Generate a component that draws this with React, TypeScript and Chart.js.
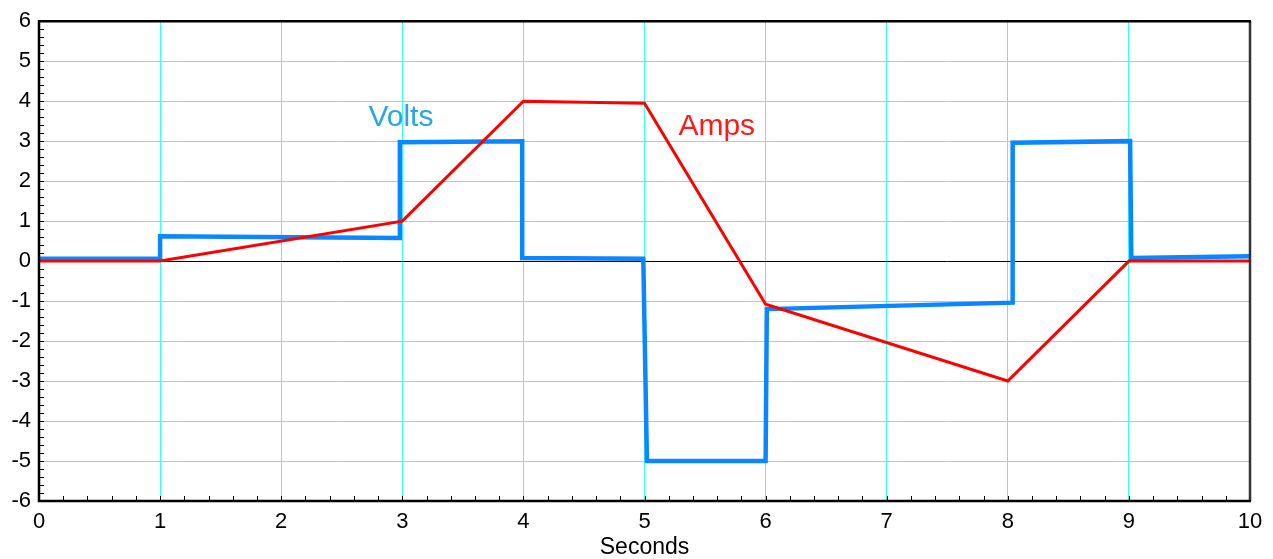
import React, { useEffect, useRef } from "react";
import { Chart, registerables } from "chart.js";

Chart.register(...registerables);

// Volts: step-like waveform (x in seconds, y in volts)
const voltsX = [0, 1, 1, 2.98, 2.98, 3.99, 3.99, 4.99, 5.02, 6.0, 6.01, 8.04, 8.04, 9.01, 9.02, 10];
const voltsY = [0.06, 0.06, 0.62, 0.58, 2.97, 3.0, 0.08, 0.06, -5.0, -5.0, -1.2, -1.04, 2.96, 3.0, 0.08, 0.12];

// Amps: piecewise linear
const ampsX = [0, 1, 3, 4, 5, 6, 8, 9, 10];
const ampsY = [0, 0, 1, 4, 3.95, -1.08, -3.0, 0, 0];

const xTicks = [0, 1, 2, 3, 4, 5, 6, 7, 8, 9, 10];
const yTicks = [-6, -5, -4, -3, -2, -1, 0, 1, 2, 3, 4, 5, 6];

const seriesLabels = ["Volts", "Amps"];
const labelX = [2.72, 5.28];
const labelY = [3.39, 3.16];

const FONT = "'Liberation Sans', Arial, Helvetica, sans-serif";

export default function App() {
  const ref = useRef<HTMLCanvasElement | null>(null);

  useEffect(() => {
    if (!ref.current) return;

    const frame = {
      id: "frame",
      beforeDatasetsDraw(chart: any) {
        const { ctx, chartArea: a, scales } = chart;
        const xs = scales.x;
        const ys = scales.y;
        ctx.save();
        ctx.strokeStyle = "#000";
        ctx.lineWidth = 1;
        ctx.beginPath();
        for (let i = 0; i <= 60; i++) {
          const v = -6 + i * 0.2;
          const py = Math.round(ys.getPixelForValue(v)) + 0.5;
          ctx.moveTo(a.left, py);
          ctx.lineTo(a.left + 5, py);
        }
        for (let i = 0; i <= 50; i++) {
          const v = i * 0.2;
          const px = Math.round(xs.getPixelForValue(v)) + 0.5;
          ctx.moveTo(px, a.bottom);
          ctx.lineTo(px, a.bottom - 5);
        }
        ctx.stroke();
        ctx.restore();
      },
      afterDatasetsDraw(chart: any) {
        const { ctx, chartArea: a, scales } = chart;
        ctx.save();
        // right border (dark grey)
        ctx.strokeStyle = "#333";
        ctx.lineWidth = 2.5;
        ctx.beginPath();
        ctx.moveTo(a.right, a.top);
        ctx.lineTo(a.right, a.bottom);
        ctx.stroke();
        // top, left, bottom black
        ctx.strokeStyle = "#000";
        ctx.lineWidth = 2.5;
        ctx.beginPath();
        ctx.moveTo(a.right + 1, a.top);
        ctx.lineTo(a.left, a.top);
        ctx.lineTo(a.left, a.bottom);
        ctx.lineTo(a.right + 1, a.bottom);
        ctx.stroke();
        // series labels
        ctx.font = `30px ${FONT}`;
        ctx.textAlign = "left";
        ctx.textBaseline = "alphabetic";
        const colors = ["#29a6e0", "#ff1a1a"];
        seriesLabels.forEach((t, i) => {
          ctx.fillStyle = colors[i];
          ctx.fillText(t, scales.x.getPixelForValue(labelX[i]), scales.y.getPixelForValue(labelY[i]));
        });
        ctx.restore();
      },
    };

    const chart = new Chart(ref.current, {
      type: "line",
      data: {
        datasets: [
          {
            label: "Amps",
            data: ampsX.map((x, i) => ({ x, y: ampsY[i] })),
            borderColor: "#ff0000",
            borderWidth: 3,
            pointRadius: 0,
            borderJoinStyle: "miter",
            tension: 0,
          },
          {
            label: "Volts",
            data: voltsX.map((x, i) => ({ x, y: voltsY[i] })),
            borderColor: "#0a86ff",
            borderWidth: 4.5,
            pointRadius: 0,
            borderJoinStyle: "miter",
            tension: 0,
          },
        ],
      },
      options: {
        animation: false,
        responsive: true,
        maintainAspectRatio: false,
        layout: { padding: { left: 0, top: 19, right: 23, bottom: 0 } },
        plugins: { legend: { display: false }, tooltip: { enabled: false } },
        scales: {
          x: {
            type: "linear",
            min: 0,
            max: 10,
            afterBuildTicks: (s: any) => {
              s.ticks = xTicks.map((v) => ({ value: v }));
            },
            afterFit: (s: any) => {
              s.height = 58;
            },
            ticks: {
              color: "#000",
              font: { family: FONT, size: 22 },
              padding: 8,
              maxRotation: 0,
              autoSkip: false,
            },
            grid: {
              color: (c: any) => (c.tick && (c.tick.value === 0 || c.tick.value === 10) ? "rgba(0,0,0,0)" : "#3ff"),
              lineWidth: 1,
              drawTicks: false,
            },
            border: { display: false },
            title: {
              display: true,
              text: "Seconds",
              color: "#000",
              font: { family: FONT, size: 23, lineHeight: 1.0 },
              padding: { top: 0, bottom: 0 },
            },
          },
          y: {
            type: "linear",
            min: -6,
            max: 6,
            afterBuildTicks: (s: any) => {
              s.ticks = yTicks.map((v) => ({ value: v }));
            },
            afterFit: (s: any) => {
              s.width = 39;
            },
            ticks: {
              color: "#000",
              font: { family: FONT, size: 22 },
              padding: 8,
              autoSkip: false,
            },
            grid: {
              color: (c: any) =>
                c.tick && c.tick.value === 0
                  ? "#000"
                  : c.tick && (c.tick.value === 6 || c.tick.value === -6)
                  ? "rgba(0,0,0,0)"
                  : "#3ff",
              lineWidth: 1,
              drawTicks: false,
            },
            border: { display: false },
          },
        },
      },
      plugins: [frame],
    });

    return () => chart.destroy();
  }, []);

  return (
    <div style={{ position: "fixed", left: 0, top: 0, width: 1273, height: 559, background: "#fff" }}>
      <canvas ref={ref} />
    </div>
  );
}
